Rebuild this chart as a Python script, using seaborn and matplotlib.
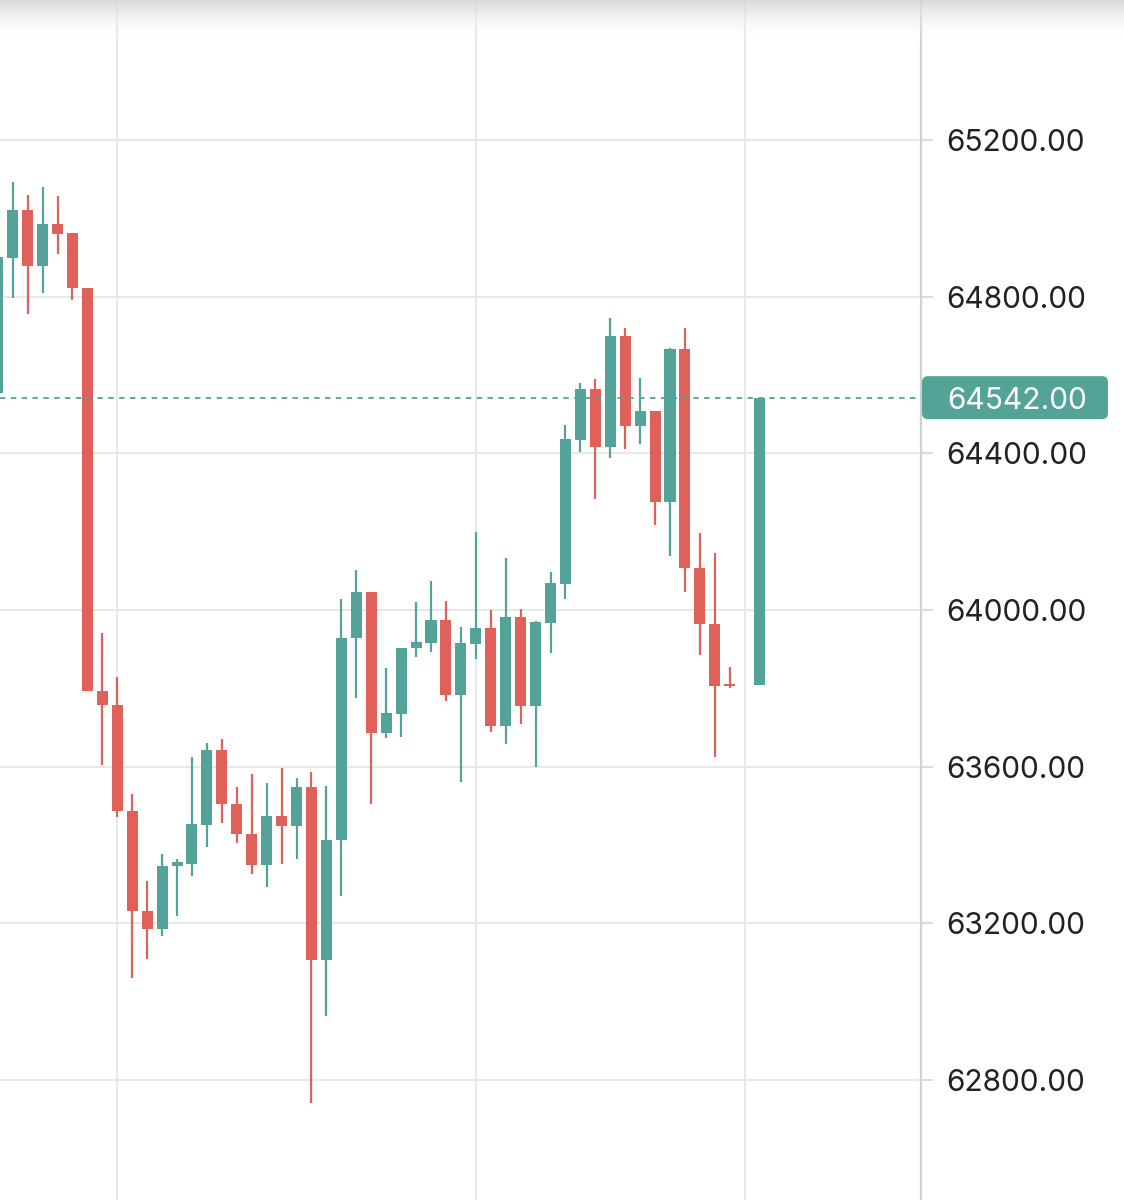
import numpy as np
import pandas as pd
import matplotlib.pyplot as plt
import matplotlib.transforms as mtransforms
from matplotlib.patches import FancyBboxPatch
import seaborn as sns

# candle data (index 50 has no candle)
opens = [64554, 64899, 65021, 64878, 64986, 64963, 64822, 63793, 63758, 63487,
         63232, 63186, 63347, 63352, 63451, 63643, 63505, 63428, 63350, 63474,
         63449, 63548, 63107, 63413, 63929, 64046, 63686, 63735, 63903, 63916,
         63975, 63783, 63913, 63954, 63704, 63982, 63755, 63967, 64067, 64434,
         64564, 64416, 64700, 64470, 64508, 64276, 64666, 64107, 63964, 63811,
         np.nan, 63809]
highs = [64901, 65093, 65060, 65080, 65057, 64963, 64822, 63942, 63829, 63531,
         63308, 63377, 63365, 63625, 63661, 63671, 63548, 63582, 63559, 63597,
         63571, 63587, 63551, 64029, 64102, 64046, 63852, 63903, 64021, 64074,
         64023, 63957, 64200, 64000, 64133, 64003, 63972, 64097, 64472, 64580,
         64590, 64746, 64720, 64592, 64508, 64669, 64720, 64197, 64146, 63855,
         np.nan, 64542]
lows = [64554, 64797, 64756, 64809, 64909, 64792, 63793, 63605, 63472, 63061,
        63109, 63168, 63219, 63321, 63395, 63456, 63405, 63327, 63293, 63352,
        63365, 62742, 62964, 63270, 63776, 63505, 63673, 63676, 63880, 63893,
        63768, 63561, 63875, 63689, 63659, 63709, 63600, 63890, 64028, 64404,
        64284, 64388, 64411, 64424, 64217, 64138, 64046, 63885, 63625, 63801,
        np.nan, 63809]
closes = [64901, 65021, 64878, 64986, 64960, 64822, 63793, 63758, 63487, 63232,
          63186, 63347, 63356, 63454, 63643, 63505, 63428, 63350, 63474, 63449,
          63548, 63107, 63413, 63929, 64046, 63686, 63737, 63903, 63919, 63975,
          63783, 63916, 63954, 63704, 63982, 63755, 63970, 64069, 64437, 64564,
          64416, 64700, 64470, 64508, 64276, 64666, 64107, 63964, 63806, 63806,
          np.nan, 64542]
last_price = 64542.00
y_ticks = [62800, 63200, 63600, 64000, 64400, 64800, 65200]
x_grid = [8, 32, 50]

up_col = "#53a398"
down_col = "#e0605a"
grid_col = "#e8e8e8"

df = pd.DataFrame({"o": opens, "h": highs, "l": lows, "c": closes}).dropna()
df["up"] = df["c"] >= df["o"]
df["col"] = np.where(df["up"], up_col, down_col)
df["bottom"] = df[["o", "c"]].min(axis=1)
df["height"] = (df["c"] - df["o"]).abs().clip(lower=6)

sns.set_style("white")
plt.rcParams["font.family"] = ["Inter", "DejaVu Sans"]

fig = plt.figure(figsize=(11.24, 12), dpi=100)
ax = fig.add_axes([0, 0, 921 / 1124, 1])

# grid
for v in y_ticks:
    ax.axhline(v, color=grid_col, lw=1.5, zorder=0)
for g in x_grid:
    ax.axvline(g, color=grid_col, lw=1.5, zorder=0)

# wicks + bodies
ax.vlines(df.index, df["l"], df["h"], colors=df["col"], lw=1.6, zorder=2)
ax.bar(df.index, df["height"], bottom=df["bottom"], width=0.74,
       color=df["col"], linewidth=0, zorder=3)

# last price line
ax.axhline(last_price, color=up_col, lw=1.3, ls=(0, (3, 3)), zorder=4)

ax.set_xlim(0.15, 61.8)
ax.set_ylim(62494, 65557)
ax.set_xticks([])
ax.set_yticks(y_ticks)
ax.set_yticklabels([f"{v:.2f}" for v in y_ticks])
ax.yaxis.tick_right()
ax.tick_params(axis="y", length=8.5, width=1.2, color="#d4d4d4", pad=10,
               labelsize=21.5, labelcolor="#222222")
for s in ["top", "left", "bottom"]:
    ax.spines[s].set_visible(False)
ax.spines["right"].set_color("#d0d0d0")
ax.spines["right"].set_linewidth(1.6)

# price label box (display pixels)
ypix = ax.transData.transform((0, last_price))[1]
box = FancyBboxPatch((922, ypix - 21.5), 186, 43, boxstyle="round,pad=0,rounding_size=6",
                     fc=up_col, ec="none", transform=mtransforms.IdentityTransform(), zorder=10)
fig.add_artist(box)
fig.text(947 / 1124, ypix / 1200, f"{last_price:.2f}", ha="left", va="center_baseline",
         color="white", fontsize=21.5, zorder=11)

# top shadow
shade = fig.add_axes([0, 1 - 42 / 1200, 1, 42 / 1200])
grad = np.linspace(0, 1, 64).reshape(-1, 1)
shade.imshow(grad, aspect="auto", cmap=sns.blend_palette(["#d6d6d6", "#ffffff"], as_cmap=True),
             extent=[0, 1, 0, 1], origin="upper")
shade.set_axis_off()
for im in shade.get_images():
    im.set_alpha(np.linspace(0.9, 0.0, 64).reshape(-1, 1) * np.ones((64, 1)))

fig.savefig("out.png", dpi=100)
